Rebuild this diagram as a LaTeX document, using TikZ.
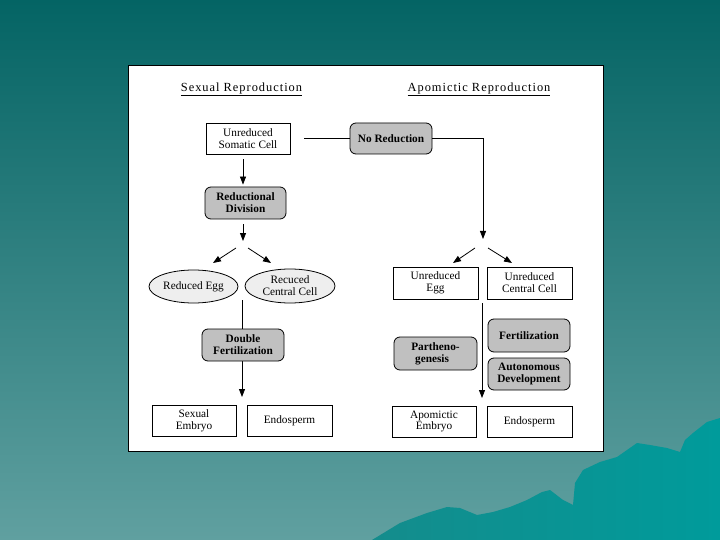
\documentclass[tikz,border=0pt]{standalone}
\usepackage{fontspec}
\setmainfont{Liberation Serif}
\newfontfamily\titlefont[LetterSpace=8]{Liberation Serif}
\usetikzlibrary{arrows.meta,shapes.geometric}
\definecolor{bgtop}{RGB}{4,100,100}
\definecolor{bgbot}{RGB}{96,160,160}
\definecolor{mtleft}{RGB}{20,140,140}
\definecolor{mtright}{RGB}{0,155,155}
\definecolor{boxgray}{RGB}{192,192,192}
\definecolor{ellgray}{RGB}{238,238,238}
\tikzset{
  txt/.style={font=\fontsize{11.3}{11.8}\selectfont},
  wbox/.style={txt, draw=black, line width=0.8pt, fill=white, align=center, inner sep=0pt, rectangle},
  gbox/.style={txt, font=\fontsize{11.3}{11.8}\selectfont\bfseries, draw=black, line width=0.8pt, fill=boxgray, rounded corners=6pt, align=center, inner sep=0pt, rectangle},
  ebox/.style={txt, draw=black, line width=0.8pt, fill=ellgray, ellipse, align=center, inner sep=0pt},
  conn/.style={draw=black, line width=0.8pt},
  arr/.style={conn, -{Triangle[length=8pt,width=6pt]}},
  ttl/.style={font=\fontsize{12.4}{14}\titlefont, inner sep=0pt}
}
\begin{document}
\begin{tikzpicture}[x=1pt,y=-1pt]
\useasboundingbox (0,0) rectangle (720,540);
% background
\shade[top color=bgtop, bottom color=bgbot] (0,0) rectangle (720,540);
\shade[left color=mtleft, right color=mtright]
  (372,540) -- (400,523) -- (427,513) -- (447,507) -- (460,508) -- (477,515)
  -- (493,512) -- (510,507) -- (527,500) -- (542,492) -- (550,490) -- (563,500)
  -- (573,505) -- (575,483) -- (583,470) -- (600,462) -- (617,457) -- (627,450)
  -- (637,443) -- (650,445) -- (667,448) -- (680,452) -- (685,440) -- (693,433)
  -- (707,422) -- (720,418) -- (720,540) -- cycle;
% panel
\draw[fill=white, line width=1pt] (128,66) rectangle (603,451);

% titles
\node[ttl] (tsex) at (241.5,89.5) {\underline{Sexual Reproduction}};
\node[ttl] (tapo) at (479,89.5) {\underline{Apomictic Reproduction}};

% coordinates
\coordinate (sexSplit) at (243,241);
\coordinate (sexDL0) at (236,248);
\coordinate (sexDL1) at (213,263);
\coordinate (sexDR0) at (248,248);
\coordinate (sexDR1) at (271,263);
\coordinate (sexV0) at (242,300);
\coordinate (sexV1) at (242,397);
\coordinate (apoSplit) at (483,239);
\coordinate (apoDL0) at (475,248);
\coordinate (apoDL1) at (453,263);
\coordinate (apoDR0) at (488,248);
\coordinate (apoDR1) at (512,263);
\coordinate (apoV0) at (482,303);
\coordinate (apoV1) at (482,398);

% vertical lines behind boxes
\draw[arr] (sexV0) -- (sexV1);
\draw[arr] (apoV0) -- (apoV1);

% nodes
\node[wbox, minimum width=84pt, minimum height=31pt] (soma) at (248,138.5) {Unreduced\\Somatic Cell};
\node[gbox, minimum width=81pt, minimum height=32pt] (redu) at (245.5,203) {Reductional\\Division};
\node[gbox, minimum width=82pt, minimum height=31pt] (nored) at (391,138.5) {No Reduction};
\node[ebox, minimum width=89pt, minimum height=33pt] (regg) at (193.5,286.5) {Reduced Egg};
\node[ebox, minimum width=90pt, minimum height=34pt] (rcc) at (290,286) {Recuced\\Central Cell};
\node[gbox, minimum width=82pt, minimum height=32pt] (dfert) at (243,345) {Double\\Fertilization};
\node[wbox, minimum width=84pt, minimum height=31pt] (semb) at (194,420.5) {Sexual\\Embryo};
\node[wbox, minimum width=85pt, minimum height=31pt] (endl) at (289.5,420.5) {Endosperm};
\node[wbox, minimum width=85pt, minimum height=32pt] (uegg) at (435.5,283) {Unreduced\\Egg};
\node[wbox, minimum width=85pt, minimum height=32pt] (ucc) at (529.5,283) {Unreduced\\Central Cell};
\node[gbox, minimum width=83pt, minimum height=33pt, align=left] (parth) at (435.5,353.5) {Partheno-\\\,\,genesis};
\node[gbox, minimum width=82pt, minimum height=33pt] (fert) at (529,335.5) {Fertilization};
\node[gbox, minimum width=82pt, minimum height=32pt] (auto) at (529,374) {Autonomous\\Development};
\node[wbox, minimum width=84pt, minimum height=31pt] (aemb) at (434,421.5) {Apomictic\\Embryo};
\node[wbox, minimum width=85pt, minimum height=31pt] (endr) at (529.5,421.5) {Endosperm};

% connectors
\draw[conn, shorten <=14pt] (soma.east) -- (nored.west);
\draw[arr] (nored.east) -| (apoSplit);
\draw[arr, shorten <=5pt, shorten >=2pt] (soma.south -| sexSplit) -- (redu.north -| sexSplit);
\draw[arr, shorten <=5pt] (redu.south -| sexSplit) -- (sexSplit);
\draw[arr] (sexDL0) -- (sexDL1);
\draw[arr] (sexDR0) -- (sexDR1);
\draw[arr] (apoDL0) -- (apoDL1);
\draw[arr] (apoDR0) -- (apoDR1);
\end{tikzpicture}
\end{document}
